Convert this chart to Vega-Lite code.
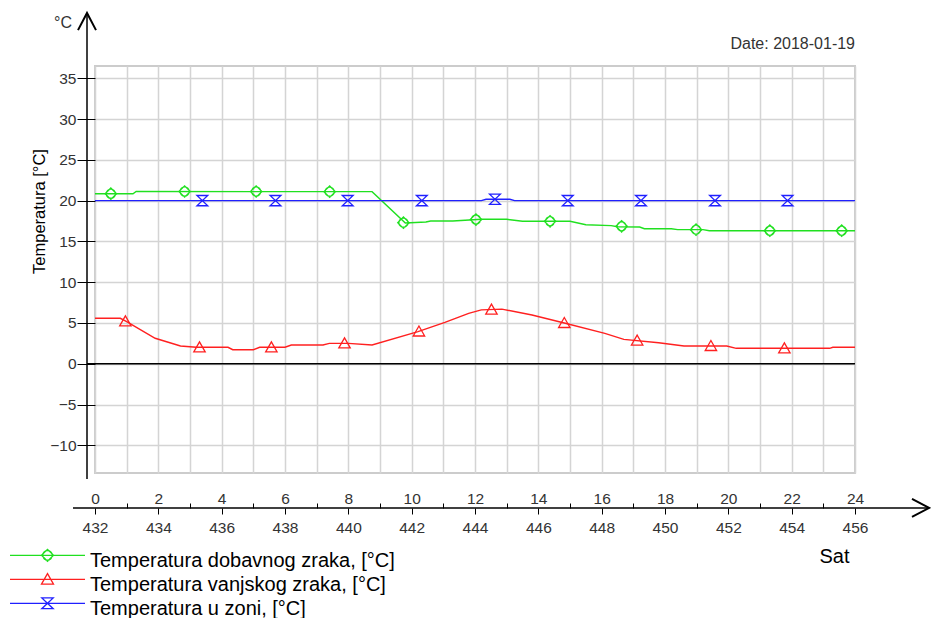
{
  "$schema": "https://vega.github.io/schema/vega-lite/v6.json",
  "width": 760,
  "height": 407,
  "autosize": {"type": "none"},
  "padding": {"left": 95, "top": 66, "right": 76, "bottom": 145},
  "background": "white",
  "config": {
    "view": {"stroke": "#cccccc", "strokeWidth": 2},
    "font": "Liberation Sans",
    "axis": {"labelFont": "Liberation Sans", "titleFont": "Liberation Sans", "labelFlush": false, "labelOverlap": false}
  },
  "datasets": {
    "lines": [
      {"series": "Temperatura dobavnog zraka, [°C]", "hour": 0, "temp": 20.85},
      {"series": "Temperatura dobavnog zraka, [°C]", "hour": 1.2, "temp": 20.85},
      {"series": "Temperatura dobavnog zraka, [°C]", "hour": 1.3, "temp": 21.12},
      {"series": "Temperatura dobavnog zraka, [°C]", "hour": 8.75, "temp": 21.1},
      {"series": "Temperatura dobavnog zraka, [°C]", "hour": 9.8, "temp": 17.26},
      {"series": "Temperatura dobavnog zraka, [°C]", "hour": 10.45, "temp": 17.38},
      {"series": "Temperatura dobavnog zraka, [°C]", "hour": 10.6, "temp": 17.5},
      {"series": "Temperatura dobavnog zraka, [°C]", "hour": 11.3, "temp": 17.5},
      {"series": "Temperatura dobavnog zraka, [°C]", "hour": 12.2, "temp": 17.71},
      {"series": "Temperatura dobavnog zraka, [°C]", "hour": 13.0, "temp": 17.71},
      {"series": "Temperatura dobavnog zraka, [°C]", "hour": 13.5, "temp": 17.47},
      {"series": "Temperatura dobavnog zraka, [°C]", "hour": 15.0, "temp": 17.47},
      {"series": "Temperatura dobavnog zraka, [°C]", "hour": 15.5, "temp": 17.05},
      {"series": "Temperatura dobavnog zraka, [°C]", "hour": 16.3, "temp": 16.93},
      {"series": "Temperatura dobavnog zraka, [°C]", "hour": 16.5, "temp": 16.8},
      {"series": "Temperatura dobavnog zraka, [°C]", "hour": 17.2, "temp": 16.77},
      {"series": "Temperatura dobavnog zraka, [°C]", "hour": 17.35, "temp": 16.56},
      {"series": "Temperatura dobavnog zraka, [°C]", "hour": 18.2, "temp": 16.56},
      {"series": "Temperatura dobavnog zraka, [°C]", "hour": 18.4, "temp": 16.44},
      {"series": "Temperatura dobavnog zraka, [°C]", "hour": 19.2, "temp": 16.44},
      {"series": "Temperatura dobavnog zraka, [°C]", "hour": 19.4, "temp": 16.31},
      {"series": "Temperatura dobavnog zraka, [°C]", "hour": 24, "temp": 16.31},
      {"series": "Temperatura vanjskog zraka, [°C]", "hour": 0, "temp": 5.57},
      {"series": "Temperatura vanjskog zraka, [°C]", "hour": 0.8, "temp": 5.57},
      {"series": "Temperatura vanjskog zraka, [°C]", "hour": 1.0, "temp": 5.15},
      {"series": "Temperatura vanjskog zraka, [°C]", "hour": 1.9, "temp": 3.12},
      {"series": "Temperatura vanjskog zraka, [°C]", "hour": 2.7, "temp": 2.18},
      {"series": "Temperatura vanjskog zraka, [°C]", "hour": 3.2, "temp": 2.02},
      {"series": "Temperatura vanjskog zraka, [°C]", "hour": 4.2, "temp": 2.02},
      {"series": "Temperatura vanjskog zraka, [°C]", "hour": 4.35, "temp": 1.72},
      {"series": "Temperatura vanjskog zraka, [°C]", "hour": 5.0, "temp": 1.72},
      {"series": "Temperatura vanjskog zraka, [°C]", "hour": 5.2, "temp": 2.02},
      {"series": "Temperatura vanjskog zraka, [°C]", "hour": 6.0, "temp": 2.02},
      {"series": "Temperatura vanjskog zraka, [°C]", "hour": 6.2, "temp": 2.3},
      {"series": "Temperatura vanjskog zraka, [°C]", "hour": 7.2, "temp": 2.3},
      {"series": "Temperatura vanjskog zraka, [°C]", "hour": 7.4, "temp": 2.5},
      {"series": "Temperatura vanjskog zraka, [°C]", "hour": 8.0, "temp": 2.5},
      {"series": "Temperatura vanjskog zraka, [°C]", "hour": 8.75, "temp": 2.3},
      {"series": "Temperatura vanjskog zraka, [°C]", "hour": 10.2, "temp": 3.93},
      {"series": "Temperatura vanjskog zraka, [°C]", "hour": 11.05, "temp": 5.08},
      {"series": "Temperatura vanjskog zraka, [°C]", "hour": 11.8, "temp": 6.18},
      {"series": "Temperatura vanjskog zraka, [°C]", "hour": 12.2, "temp": 6.6},
      {"series": "Temperatura vanjskog zraka, [°C]", "hour": 12.85, "temp": 6.7},
      {"series": "Temperatura vanjskog zraka, [°C]", "hour": 13.8, "temp": 5.98},
      {"series": "Temperatura vanjskog zraka, [°C]", "hour": 14.85, "temp": 4.96},
      {"series": "Temperatura vanjskog zraka, [°C]", "hour": 16.1, "temp": 3.73},
      {"series": "Temperatura vanjskog zraka, [°C]", "hour": 16.7, "temp": 2.99},
      {"series": "Temperatura vanjskog zraka, [°C]", "hour": 17.8, "temp": 2.58},
      {"series": "Temperatura vanjskog zraka, [°C]", "hour": 18.6, "temp": 2.18},
      {"series": "Temperatura vanjskog zraka, [°C]", "hour": 19.95, "temp": 2.18},
      {"series": "Temperatura vanjskog zraka, [°C]", "hour": 20.25, "temp": 1.89},
      {"series": "Temperatura vanjskog zraka, [°C]", "hour": 23.2, "temp": 1.89},
      {"series": "Temperatura vanjskog zraka, [°C]", "hour": 23.3, "temp": 2.02},
      {"series": "Temperatura vanjskog zraka, [°C]", "hour": 24, "temp": 2.02},
      {"series": "Temperatura u zoni, [°C]", "hour": 0, "temp": 20},
      {"series": "Temperatura u zoni, [°C]", "hour": 12.2, "temp": 20},
      {"series": "Temperatura u zoni, [°C]", "hour": 12.35, "temp": 20.17},
      {"series": "Temperatura u zoni, [°C]", "hour": 13.1, "temp": 20.17},
      {"series": "Temperatura u zoni, [°C]", "hour": 13.25, "temp": 20},
      {"series": "Temperatura u zoni, [°C]", "hour": 24, "temp": 20}
    ],
    "markers": [
      {"series": "Temperatura dobavnog zraka, [°C]", "hour": 0.5, "temp": 20.85},
      {"series": "Temperatura dobavnog zraka, [°C]", "hour": 2.83, "temp": 21.12},
      {"series": "Temperatura dobavnog zraka, [°C]", "hour": 5.09, "temp": 21.12},
      {"series": "Temperatura dobavnog zraka, [°C]", "hour": 7.41, "temp": 21.1},
      {"series": "Temperatura dobavnog zraka, [°C]", "hour": 9.74, "temp": 17.3},
      {"series": "Temperatura dobavnog zraka, [°C]", "hour": 12.03, "temp": 17.68},
      {"series": "Temperatura dobavnog zraka, [°C]", "hour": 14.37, "temp": 17.47},
      {"series": "Temperatura dobavnog zraka, [°C]", "hour": 16.63, "temp": 16.85},
      {"series": "Temperatura dobavnog zraka, [°C]", "hour": 18.98, "temp": 16.44},
      {"series": "Temperatura dobavnog zraka, [°C]", "hour": 21.31, "temp": 16.31},
      {"series": "Temperatura dobavnog zraka, [°C]", "hour": 23.58, "temp": 16.31},
      {"series": "Temperatura vanjskog zraka, [°C]", "hour": 0.96, "temp": 5.2},
      {"series": "Temperatura vanjskog zraka, [°C]", "hour": 3.3, "temp": 2.02},
      {"series": "Temperatura vanjskog zraka, [°C]", "hour": 5.57, "temp": 2.02},
      {"series": "Temperatura vanjskog zraka, [°C]", "hour": 7.88, "temp": 2.5},
      {"series": "Temperatura vanjskog zraka, [°C]", "hour": 10.23, "temp": 3.96},
      {"series": "Temperatura vanjskog zraka, [°C]", "hour": 12.52, "temp": 6.65},
      {"series": "Temperatura vanjskog zraka, [°C]", "hour": 14.82, "temp": 5.0},
      {"series": "Temperatura vanjskog zraka, [°C]", "hour": 17.12, "temp": 2.85},
      {"series": "Temperatura vanjskog zraka, [°C]", "hour": 19.45, "temp": 2.18},
      {"series": "Temperatura vanjskog zraka, [°C]", "hour": 21.77, "temp": 1.89},
      {"series": "Temperatura u zoni, [°C]", "hour": 3.39, "temp": 20},
      {"series": "Temperatura u zoni, [°C]", "hour": 5.7, "temp": 20},
      {"series": "Temperatura u zoni, [°C]", "hour": 7.98, "temp": 20},
      {"series": "Temperatura u zoni, [°C]", "hour": 10.32, "temp": 20},
      {"series": "Temperatura u zoni, [°C]", "hour": 12.63, "temp": 20.17},
      {"series": "Temperatura u zoni, [°C]", "hour": 14.93, "temp": 20},
      {"series": "Temperatura u zoni, [°C]", "hour": 17.24, "temp": 20},
      {"series": "Temperatura u zoni, [°C]", "hour": 19.58, "temp": 20},
      {"series": "Temperatura u zoni, [°C]", "hour": 21.87, "temp": 20}
    ]
  },
  "resolve": {"axis": {"x": "independent", "y": "independent"}},
  "layer": [
    {
      "data": {"name": "lines"},
      "mark": {"type": "line", "strokeWidth": 1.4},
      "encoding": {
        "x": {
          "field": "hour", "type": "quantitative",
          "scale": {"domain": [0, 24], "nice": false, "zero": false},
          "axis": {
            "orient": "top", "offset": -442,
            "values": [0,1,2,3,4,5,6,7,8,9,10,11,12,13,14,15,16,17,18,19,20,21,22,23,24],
            "grid": true, "gridColor": "#d4d4d4", "gridWidth": 1.5,
            "domain": false,
            "tickSize": 5, "tickColor": "black", "tickWidth": 1,
            "tickOpacity": {"condition": {"test": "datum.value % 2 === 0", "value": 0}, "value": 1},
            "labelExpr": "datum.value % 2 === 0 ? datum.label : ''",
            "labelBaseline": "alphabetic", "labelPadding": 0,
            "labelFontSize": 15.5, "labelColor": "#333333",
            "labelFlush": false, "labelOverlap": false,
            "title": null
          }
        },
        "y": {
          "field": "temp", "type": "quantitative",
          "scale": {"domain": [-13.4, 36.51], "nice": false, "zero": false},
          "axis": {
            "values": [-10,-5,0,5,10,15,20,25,30,35],
            "grid": true, "gridColor": "#d4d4d4", "gridWidth": 1.5,
            "domain": false,
            "tickSize": 18, "tickColor": "black", "tickWidth": 1,
            "labelPadding": 1, "labelFontSize": 15.5, "labelColor": "#333333",
            "labelFlush": false, "labelOverlap": false,
            "title": "Temperatura [°C]",
            "titleFontSize": 16.5, "titleFontWeight": "normal", "titleColor": "black",
            "titleAngle": 270, "titleAlign": "center", "titleBaseline": "alphabetic",
            "titleX": -51, "titleY": 145
          }
        },
        "color": {
          "field": "series", "type": "nominal",
          "scale": {
            "domain": ["Temperatura dobavnog zraka, [°C]", "Temperatura vanjskog zraka, [°C]", "Temperatura u zoni, [°C]"],
            "range": ["#20e020", "#ff2020", "#2020ff"]
          }
        }
      }
    },
    {
      "data": {"name": "markers"},
      "transform": [{"filter": {"field": "series", "equal": "Temperatura dobavnog zraka, [°C]"}}],
      "mark": {"type": "point", "filled": false, "size": 130, "strokeWidth": 1.3, "opacity": 1, "shape": "M-1,0L0,-1L1,0L0,1ZM-0.8,0A0.8,0.8,0,1,0,0.8,0A0.8,0.8,0,1,0,-0.8,0"},
      "encoding": {
        "x": {
          "field": "hour", "type": "quantitative",
          "scale": {"domain": [0, 24], "nice": false, "zero": false},
          "axis": {
            "orient": "bottom", "offset": 35,
            "values": [0,2,4,6,8,10,12,14,16,18,20,22,24],
            "grid": false, "domain": false,
            "tickSize": 6, "tickColor": "black", "tickWidth": 1,
            "labelExpr": "format(datum.value + 432, 'd')",
            "labelBaseline": "alphabetic", "labelPadding": 18,
            "labelFontSize": 15.5, "labelColor": "#333333",
            "labelFlush": false, "labelOverlap": false,
            "title": "Sat", "titleFontSize": 20, "titleFontWeight": "normal", "titleColor": "black",
            "titleAngle": 0, "titleAlign": "center", "titleBaseline": "alphabetic",
            "titleX": 739, "titleY": 54
          }
        },
        "y": {
          "field": "temp", "type": "quantitative",
          "scale": {"domain": [-13.4, 36.51], "nice": false, "zero": false},
          "axis": null
        },
        "color": {
          "field": "series", "type": "nominal",
          "scale": {
            "domain": ["Temperatura dobavnog zraka, [°C]", "Temperatura vanjskog zraka, [°C]", "Temperatura u zoni, [°C]"],
            "range": ["#20e020", "#ff2020", "#2020ff"]
          },
          "legend": {
            "orient": "none", "legendX": -57.5, "legendY": 491,
            "title": null, "padding": 0,
            "symbolSize": 144, "symbolStrokeWidth": 1.3, "symbolOffset": 0,
            "symbolFillColor": "transparent",
            "labelFontSize": 20, "labelFont": "Liberation Sans", "labelColor": "black",
            "labelLimit": 600, "labelOffset": 32.5, "labelBaseline": "alphabetic",
            "rowPadding": 0,
            "encoding": {
              "symbols": {"shape": {"value": {"expr": "datum.index === 0 ? 'M-6.25,-1.95H6.25M-1,-1.95L0,-2.95L1,-1.95L0,-0.95ZM-0.8,-1.95A0.8,0.8,0,1,0,0.8,-1.95A0.8,0.8,0,1,0,-0.8,-1.95' : datum.index === 1 ? 'M-6.25,-1.95H6.25M-1,-1.15L0,-2.9L1,-1.15Z' : 'M-6.25,-1.95H6.25M-0.95,-2.85H0.95L-0.95,-1.05H0.95Z'"}}}
            }
          }
        }
      }
    },
    {
      "data": {"name": "markers"},
      "transform": [{"filter": {"field": "series", "equal": "Temperatura vanjskog zraka, [°C]"}}],
      "mark": {"type": "point", "filled": false, "size": 130, "strokeWidth": 1.3, "opacity": 1, "shape": "M-1,0.8L0,-0.95L1,0.8Z"},
      "encoding": {
        "x": {"field": "hour", "type": "quantitative", "scale": {"domain": [0, 24], "nice": false, "zero": false}, "axis": null},
        "y": {"field": "temp", "type": "quantitative", "scale": {"domain": [-13.4, 36.51], "nice": false, "zero": false}, "axis": null},
        "color": {
          "field": "series", "type": "nominal",
          "scale": {
            "domain": ["Temperatura dobavnog zraka, [°C]", "Temperatura vanjskog zraka, [°C]", "Temperatura u zoni, [°C]"],
            "range": ["#20e020", "#ff2020", "#2020ff"]
          }
        }
      }
    },
    {
      "data": {"name": "markers"},
      "transform": [{"filter": {"field": "series", "equal": "Temperatura u zoni, [°C]"}}],
      "mark": {"type": "point", "filled": false, "size": 130, "strokeWidth": 1.3, "opacity": 1, "shape": "M-0.95,-0.9H0.95L-0.95,0.9H0.95Z"},
      "encoding": {
        "x": {"field": "hour", "type": "quantitative", "scale": {"domain": [0, 24], "nice": false, "zero": false}, "axis": null},
        "y": {"field": "temp", "type": "quantitative", "scale": {"domain": [-13.4, 36.51], "nice": false, "zero": false}, "axis": null},
        "color": {
          "field": "series", "type": "nominal",
          "scale": {
            "domain": ["Temperatura dobavnog zraka, [°C]", "Temperatura vanjskog zraka, [°C]", "Temperatura u zoni, [°C]"],
            "range": ["#20e020", "#ff2020", "#2020ff"]
          }
        }
      }
    },
    {
      "data": {"values": [{}]},
      "mark": {"type": "rule", "color": "black", "strokeWidth": 1.5},
      "encoding": {
        "x": {"datum": -0.2526, "type": "quantitative", "scale": {"domain": [0, 24], "nice": false, "zero": false}, "axis": null},
        "y": {"datum": -14.13, "type": "quantitative", "scale": {"domain": [-13.4, 36.51], "nice": false, "zero": false}, "axis": null},
        "y2": {"datum": 43.01}
      }
    },
    {
      "data": {"values": [{}]},
      "mark": {"type": "rule", "color": "black", "strokeWidth": 1.5},
      "encoding": {
        "x": {"datum": -0.695, "type": "quantitative", "scale": {"domain": [0, 24], "nice": false, "zero": false}, "axis": null},
        "x2": {"datum": 26.34},
        "y": {"datum": -17.69, "type": "quantitative", "scale": {"domain": [-13.4, 36.51], "nice": false, "zero": false}, "axis": null}
      }
    },
    {
      "data": {"values": [{}]},
      "mark": {"type": "rule", "color": "black", "strokeWidth": 1.5},
      "encoding": {
        "x": {"datum": -0.2526, "type": "quantitative", "scale": {"domain": [0, 24], "nice": false, "zero": false}, "axis": null},
        "x2": {"datum": 24},
        "y": {"datum": 0, "type": "quantitative", "scale": {"domain": [-13.4, 36.51], "nice": false, "zero": false}, "axis": null}
      }
    },
    {
      "data": {"values": [{}]},
      "mark": {"type": "point", "shape": "M-1,1.9L0,0L1,1.9", "size": 324, "filled": false, "stroke": "black", "strokeWidth": 2, "opacity": 1},
      "encoding": {
        "x": {"datum": -0.2526, "type": "quantitative", "scale": {"domain": [0, 24], "nice": false, "zero": false}, "axis": null},
        "y": {"datum": 43.01, "type": "quantitative", "scale": {"domain": [-13.4, 36.51], "nice": false, "zero": false}, "axis": null}
      }
    },
    {
      "data": {"values": [{}]},
      "mark": {"type": "point", "shape": "M-1.9,-1L0,0L-1.9,1", "size": 324, "filled": false, "stroke": "black", "strokeWidth": 2, "opacity": 1},
      "encoding": {
        "x": {"datum": 26.34, "type": "quantitative", "scale": {"domain": [0, 24], "nice": false, "zero": false}, "axis": null},
        "y": {"datum": -17.69, "type": "quantitative", "scale": {"domain": [-13.4, 36.51], "nice": false, "zero": false}, "axis": null}
      }
    },
    {
      "data": {"values": [{}]},
      "mark": {"type": "text", "text": "°C", "font": "Liberation Sans", "fontSize": 16, "color": "#333333", "align": "center", "baseline": "alphabetic"},
      "encoding": {
        "x": {"datum": -1.01, "type": "quantitative", "scale": {"domain": [0, 24], "nice": false, "zero": false}, "axis": null},
        "y": {"datum": 41.13, "type": "quantitative", "scale": {"domain": [-13.4, 36.51], "nice": false, "zero": false}, "axis": null}
      }
    },
    {
      "data": {"values": [{}]},
      "mark": {"type": "text", "text": "Date: 2018-01-19", "font": "Liberation Sans", "fontSize": 16, "color": "#333333", "align": "right", "baseline": "alphabetic"},
      "encoding": {
        "x": {"datum": 24, "type": "quantitative", "scale": {"domain": [0, 24], "nice": false, "zero": false}, "axis": null},
        "y": {"datum": 38.59, "type": "quantitative", "scale": {"domain": [-13.4, 36.51], "nice": false, "zero": false}, "axis": null}
      }
    }
  ]
}
